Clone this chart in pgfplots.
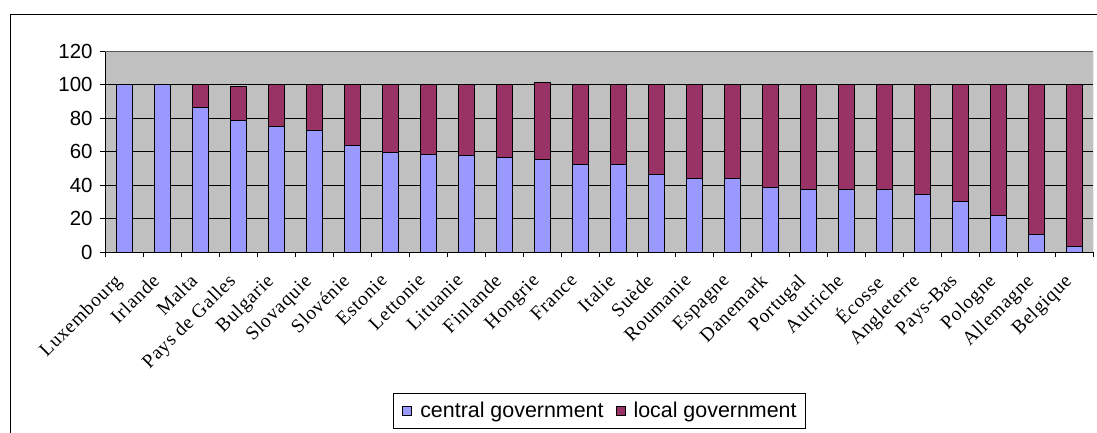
\documentclass[border=0pt]{standalone}
\usepackage{fontspec}
\setmainfont{Liberation Serif}
\newfontfamily\labfont[LetterSpace=4]{Liberation Serif}
\newfontfamily\arial{Liberation Sans}
\usepackage{pgfplots}
\pgfplotsset{compat=1.18}
\usepackage{pgfplotstable}
\definecolor{central}{HTML}{9999FF}
\definecolor{localc}{HTML}{993366}
\definecolor{plotbg}{HTML}{C0C0C0}
\pgfplotstableread{
idx central local
0 100 0
1 100 0
2 86.5 13.5
3 78.3 20.5
4 75 25
5 72.7 27.3
6 63.4 36.6
7 59.3 40.7
8 58.2 41.8
9 57.4 42.6
10 56.4 43.6
11 55.2 46
12 52 48
13 52 48
14 46 54
15 43.9 56.1
16 43.9 56.1
17 38.8 61.2
18 37.6 62.4
19 37.6 62.4
20 37.6 62.4
21 34.6 65.4
22 30.2 69.8
23 22 78
24 10.7 89.3
25 3.2 96.8
}\data
\begin{document}
\begin{tikzpicture}
\useasboundingbox (0,0) rectangle (1097bp,433bp);
\clip (0,0) rectangle (1097bp,433bp);
\draw[line width=1bp] (10bp,-10bp) rectangle (1120bp,418bp);
\begin{axis}[
  at={(105bp,181bp)}, anchor=south west,
  scale only axis, width=988bp, height=201bp,
  xmin=-0.5, xmax=25.5, ymin=0, ymax=120,
  ybar stacked, bar width=0.42,
  axis background/.style={fill=plotbg},
  axis x line*=bottom, axis y line*=left,
  axis line style={black, line width=0.9bp, -},
  tick align=outside,
  ytick={0,20,...,120},
  ymajorgrids, grid style={black, line width=0.9bp},
  xtick={0,...,25},
  xticklabels={Luxembourg,Irlande,Malta,Pays de Galles,Bulgarie,Slovaquie,Slovénie,Estonie,Lettonie,Lituanie,Finlande,Hongrie,France,Italie,Suède,Roumanie,Espagne,Danemark,Portugal,Autriche,Écosse,Angleterre,Pays-Bas,Pologne,Allemagne,Belgique},
  minor xtick={-0.5,0.5,...,25.5},
  major x tick style={draw=none},
  minor x tick style={black, line width=0.9bp},
  major y tick style={black, line width=0.9bp},
  major tick length=5bp, minor tick length=5bp,
  x tick label style={xshift=-11bp, yshift=-14bp, rotate=45, anchor=north east, font=\labfont\fontsize{19.5}{19.5}\selectfont, inner sep=1bp},
  y tick label style={font=\arial\fontsize{20.5}{20.5}\selectfont, /pgf/number format/assume math mode=true, xshift=-4bp},
  legend style={at={(0.5005,-0.789)}, anchor=center, legend columns=2, draw=black, line width=0.8bp,
    font=\arial\fontsize{21.5}{21.5}\selectfont, inner xsep=7bp, inner ysep=7bp,
    /tikz/every even column/.append style={column sep=8bp}},
  legend image code/.code={\draw[#1, draw=black, line width=0.7bp] (0bp,-4.5bp) rectangle (9bp,4.5bp); \path (-2bp,0) (15bp,0);},
]
\addplot[fill=central, draw=black, line width=0.9bp] table[x=idx, y=central] {\data};
\addlegendentry{central government}
\addplot[fill=localc, draw=black, line width=0.9bp] table[x=idx, y=local] {\data};
\addlegendentry{local government}
\draw[gray!70!black, line width=0.9bp] (rel axis cs:0,1) -- (rel axis cs:1,1) -- (rel axis cs:1,0);
\end{axis}
\end{tikzpicture}
\end{document}
